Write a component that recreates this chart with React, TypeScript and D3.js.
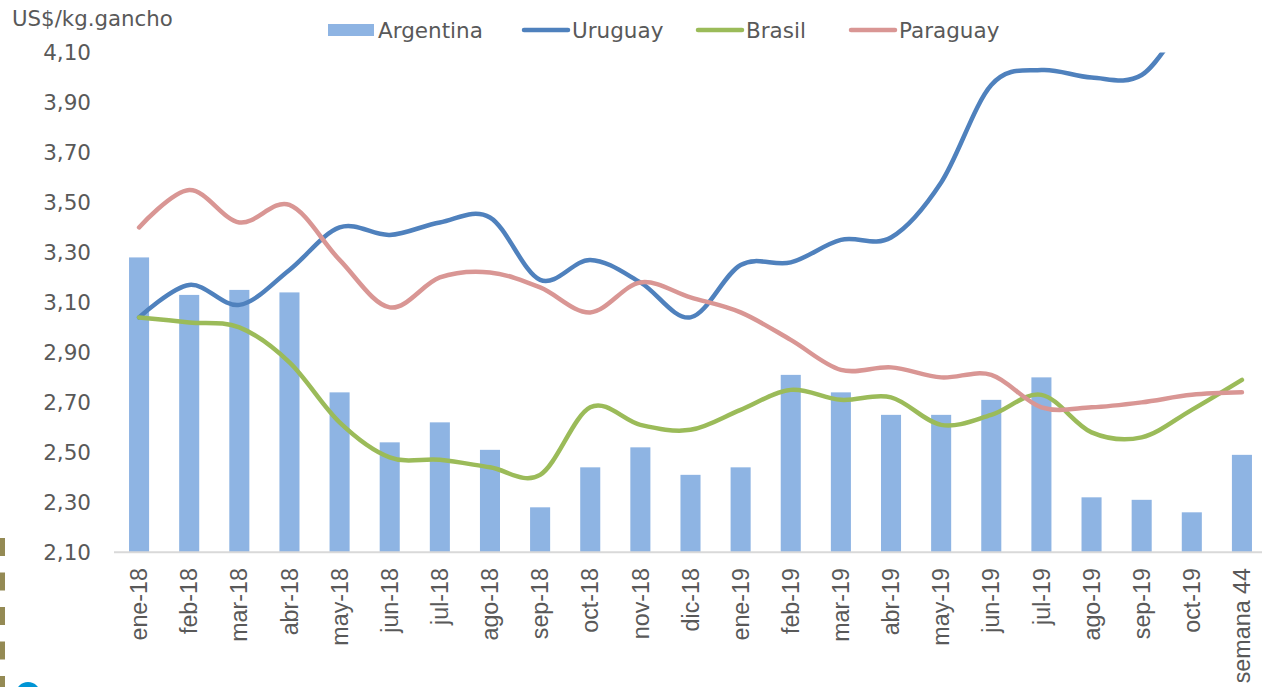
import React from "react";
import * as d3 from "d3";

const categories = ["ene-18","feb-18","mar-18","abr-18","may-18","jun-18","jul-18","ago-18","sep-18","oct-18","nov-18","dic-18","ene-19","feb-19","mar-19","abr-19","may-19","jun-19","jul-19","ago-19","sep-19","oct-19","semana 44"];
const argentina = [3.28,3.13,3.15,3.14,2.74,2.54,2.62,2.51,2.28,2.44,2.52,2.41,2.44,2.81,2.74,2.65,2.65,2.71,2.80,2.32,2.31,2.26,2.49];
const uruguay = [3.04,3.17,3.09,3.23,3.40,3.37,3.42,3.44,3.19,3.27,3.18,3.04,3.25,3.26,3.35,3.36,3.58,3.97,4.03,4.00,4.01,4.24,4.28];
const brasil = [3.04,3.02,3.00,2.86,2.62,2.48,2.47,2.44,2.41,2.68,2.61,2.59,2.67,2.75,2.71,2.72,2.61,2.65,2.73,2.58,2.56,2.67,2.79];
const paraguay = [3.40,3.55,3.42,3.49,3.27,3.08,3.20,3.22,3.16,3.06,3.18,3.12,3.06,2.95,2.83,2.84,2.80,2.81,2.68,2.68,2.70,2.73,2.74];
const yTicks = [2.1,2.3,2.5,2.7,2.9,3.1,3.3,3.5,3.7,3.9,4.1];
const yTitle = "US$/kg.gancho";

const W = 1262, H = 687;
const TEXT = "#595959";
const C_ARG = "#8EB4E3", C_URU = "#4F81BD", C_BRA = "#9BBB59", C_PAR = "#D99694";

export default function App() {
  const x = d3.scaleBand<string>().domain(categories).range([114, 1267]).paddingInner(0.6).paddingOuter(0.3);
  const y = d3.scaleLinear().domain([2.1, 4.1]).range([552.3, 52.5]);
  const cx = (c: string) => (x(c) as number) + x.bandwidth() / 2;
  const line = d3.line<number>().x((_, i) => cx(categories[i])).y(v => y(v)).curve(d3.curveCardinal.tension(0));
  const fmt = (v: number) => v.toFixed(2).replace(".", ",");
  const series = [
    { name: "Uruguay", data: uruguay, color: C_URU },
    { name: "Brasil", data: brasil, color: C_BRA },
    { name: "Paraguay", data: paraguay, color: C_PAR },
  ];
  const legend = [
    { name: "Argentina", type: "bar", color: C_ARG, x: 328 },
    { name: "Uruguay", type: "line", color: C_URU, x: 522 },
    { name: "Brasil", type: "line", color: C_BRA, x: 696 },
    { name: "Paraguay", type: "line", color: C_PAR, x: 849 },
  ];
  const sans = "'DejaVu Sans', Verdana, sans-serif";
  const arial = "'Liberation Sans', Arial, sans-serif";
  return (
    <svg width={W} height={H} style={{ position: "absolute", left: 0, top: 0, background: "#fff" }}>
      <defs>
        <clipPath id="plotClip">
          <rect x={100} y={y(4.1)} width={1170} height={510} />
        </clipPath>
      </defs>
      <rect x={0} y={0} width={W} height={H} fill="#fff" />
      {/* decorations */}
      <line x1={2.5} x2={2.5} y1={538} y2={H} stroke="#948A54" strokeWidth={5} strokeDasharray="18 16.5" />
      <circle cx={28} cy={694.5} r={12.5} fill="#0095D5" />
      {/* title */}
      <text x={12} y={26} fontFamily={sans} fontSize={21.3} fill={TEXT}>{yTitle}</text>
      {/* y ticks */}
      {yTicks.map(t => (
        <text key={t} x={91} y={y(t)} dy="0.36em" textAnchor="end" fontFamily={sans} fontSize={21.5} fill={TEXT}>{fmt(t)}</text>
      ))}
      {/* bars */}
      {categories.map((c, i) => (
        <rect key={c} x={x(c)} y={y(argentina[i])} width={x.bandwidth()} height={y(2.1) - y(argentina[i])} fill={C_ARG} />
      ))}
      {/* axis */}
      <line x1={114} x2={W} y1={y(2.1)} y2={y(2.1)} stroke="#D9D9D9" strokeWidth={2} />
      {/* lines */}
      <g clipPath="url(#plotClip)">
        {series.map(s => (
          <path key={s.name} d={line(s.data) || ""} fill="none" stroke={s.color} strokeWidth={4.5} strokeLinecap="round" strokeLinejoin="round" />
        ))}
      </g>
      {/* x labels */}
      {categories.map(c => (
        <text key={c} transform={`translate(${cx(c)},568) rotate(-90)`} dy="0.35em" textAnchor="end" fontFamily={arial} fontSize={23.3} fill={TEXT}>{c}</text>
      ))}
      {/* legend */}
      {legend.map(l => (
        <g key={l.name}>
          {l.type === "bar"
            ? <rect x={l.x} y={24} width={46} height={12} fill={l.color} />
            : <line x1={l.x + 2} x2={l.x + 46} y1={30} y2={30} stroke={l.color} strokeWidth={4.5} strokeLinecap="round" />}
          <text x={l.x + 50} y={30} dy="0.36em" fontFamily={sans} fontSize={21.5} fill={TEXT}>{l.name}</text>
        </g>
      ))}
    </svg>
  );
}
